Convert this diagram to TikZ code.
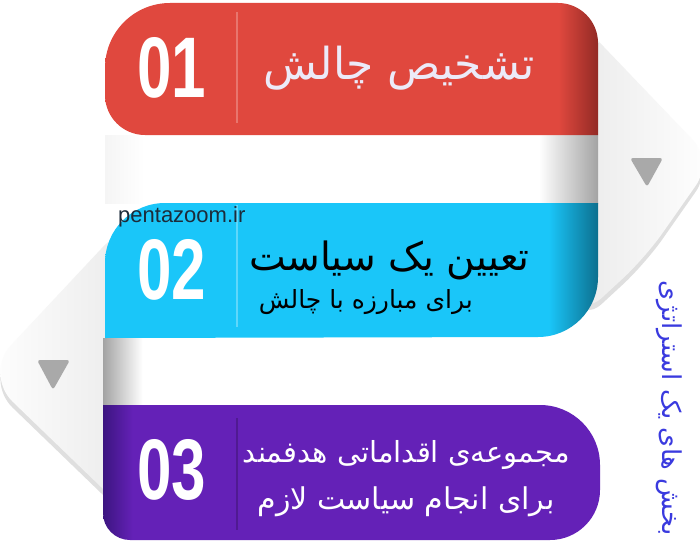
\documentclass[tikz,border=0pt]{standalone}
\usepackage{fontspec}
\setmainfont{Liberation Sans}
\newfontfamily\farsi[Script=Arabic]{DejaVu Sans}
\newfontfamily\numfont[FakeStretch=0.72]{Liberation Sans}
\TeXXeTstate=1

\definecolor{bandred}{HTML}{E0483E}
\definecolor{bandreddark}{HTML}{922A25}
\definecolor{bandcyan}{HTML}{1AC6F9}
\definecolor{bandcyandark}{HTML}{0C6F8E}
\definecolor{bandpurple}{HTML}{6421B7}
\definecolor{bandpurpledark}{HTML}{3C1580}
\definecolor{titleblue}{HTML}{3A3ADF}
\definecolor{arrowgray}{HTML}{A9A9A9}
\definecolor{sitegray}{HTML}{1C2B3A}
\definecolor{lavender}{HTML}{ECEAF8}

% band and strip gradients (path box = 25bp..75bp)
\pgfdeclarehorizontalshading{redband}{100bp}{color(0bp)=(bandred); color(71bp)=(bandred); color(75bp)=(bandreddark); color(100bp)=(bandreddark)}
\pgfdeclarehorizontalshading{cyanband}{100bp}{color(0bp)=(bandcyan); color(70bp)=(bandcyan); color(75bp)=(bandcyandark); color(100bp)=(bandcyandark)}
\pgfdeclarehorizontalshading{purpleband}{100bp}{color(0bp)=(bandpurpledark); color(25bp)=(bandpurpledark); color(28bp)=(bandpurple); color(100bp)=(bandpurple)}
\pgfdeclarehorizontalshading{stripone}{100bp}{color(0bp)=(gray!8); color(25bp)=(gray!8); color(29bp)=(white); color(69bp)=(white); color(75bp)=(gray!72); color(100bp)=(gray!72)}
\pgfdeclarehorizontalshading{striptwo}{100bp}{color(0bp)=(gray!72); color(25bp)=(gray!72); color(29bp)=(white); color(100bp)=(white)}

\begin{document}
\begin{tikzpicture}[x=1pt,y=1pt,
  fatext/.style={inner sep=0pt},
  numtext/.style={font=\numfont\bfseries\fontsize{86}{86}\selectfont, text=white, inner sep=0pt},
  divider/.style={line width=1.6pt},
  arrowtri/.style={fill=arrowgray, rounded corners=3pt}]
\useasboundingbox (0,0) rectangle (700,542);
\fill[white] (0,0) rectangle (700,542);

% curls
\fill[gray!25, rounded corners=30pt] (560,535) -- (713,375) -- (645,278) -- (580,218) -- cycle;
\shade[left color=gray!18, right color=white, rounded corners=30pt] (560,541) -- (713,381) -- (645,284) -- (580,224) -- cycle;
\fill[gray!25, rounded corners=40pt] (130,318) -- (-16,162) -- (130,21) -- cycle;
\shade[left color=white, right color=gray!16, rounded corners=40pt] (130,324) -- (-16,168) -- (130,27) -- cycle;
\fill[arrowtri] (630,384) -- (663,384) -- (647,355) -- cycle;
\fill[arrowtri] (37,182) -- (70,182) -- (53,152) -- cycle;

% white strips
\shade[shading=stripone] (105,339) rectangle (598,407);
\shade[shading=striptwo] (103,137) rectangle (598,204);

% bands
\shade[shading=redband] (170,539) -- (558,539) arc[start angle=90,end angle=0,radius=40]
  -- (598,407) -- (145,407) arc[start angle=270,end angle=180,radius=40]
  -- (105,474) arc[start angle=180,end angle=90,radius=65] -- cycle;
\shade[shading=cyanband] (105,204) -- (105,279) arc[start angle=180,end angle=90,radius=60]
  -- (598,339) -- (598,265) arc[start angle=0,end angle=-90,radius=60] -- cycle;
\shade[shading=purpleband] (103,137) -- (540,137) arc[start angle=90,end angle=0,radius=60]
  -- (600,52) arc[start angle=0,end angle=-90,radius=50] -- (130,2)
  arc[start angle=270,end angle=180,radius=27] -- cycle;

% dividers
\draw[divider, draw=bandred!75!white] (237,530) -- (237,419);
\draw[divider, draw=bandcyan!70!white] (237,337) -- (237,215);
\draw[divider, draw=bandpurple!80!black] (237,124) -- (237,12);

% numbers
\node[numtext] (n01) at (172,474) {01};
\node[numtext] (n02) at (172,272) {02};
\node[numtext] (n03) at (172,72) {03};

% texts
\node[fatext, anchor=base east, text=lavender, font=\farsi\fontsize{44}{50}\selectfont] (t01) at (535,462) {\beginR تشخیص چالش\endR};
\node[fatext, anchor=base east, text=black, font=\farsi\fontsize{39}{44}\selectfont] (t02a) at (530,272) {\beginR تعیین یک سیاست\endR};
\node[fatext, anchor=base east, text=black, font=\farsi\fontsize{25}{30}\selectfont] (t02b) at (473,234) {\beginR برای مبارزه با چالش\endR};
\node[fatext, anchor=base east, text=white, font=\farsi\fontsize{29}{34}\selectfont] (t03a) at (570,80) {\beginR مجموعه‌ی اقداماتی هدفمند\endR};
\node[fatext, anchor=base east, text=white, font=\farsi\fontsize{30}{35}\selectfont] (t03b) at (555,33) {\beginR برای انجام سیاست لازم\endR};
\node[fatext, rotate=-90, text=titleblue, font=\farsi\fontsize{26}{30}\selectfont] (title) at (669,134) {\beginR بخش های یک استراتژی\endR};
\node[anchor=base west, inner sep=0pt, text=sitegray, font=\fontsize{22}{26}\selectfont] (site) at (118,320) {pentazoom.ir};
\end{tikzpicture}
\end{document}
